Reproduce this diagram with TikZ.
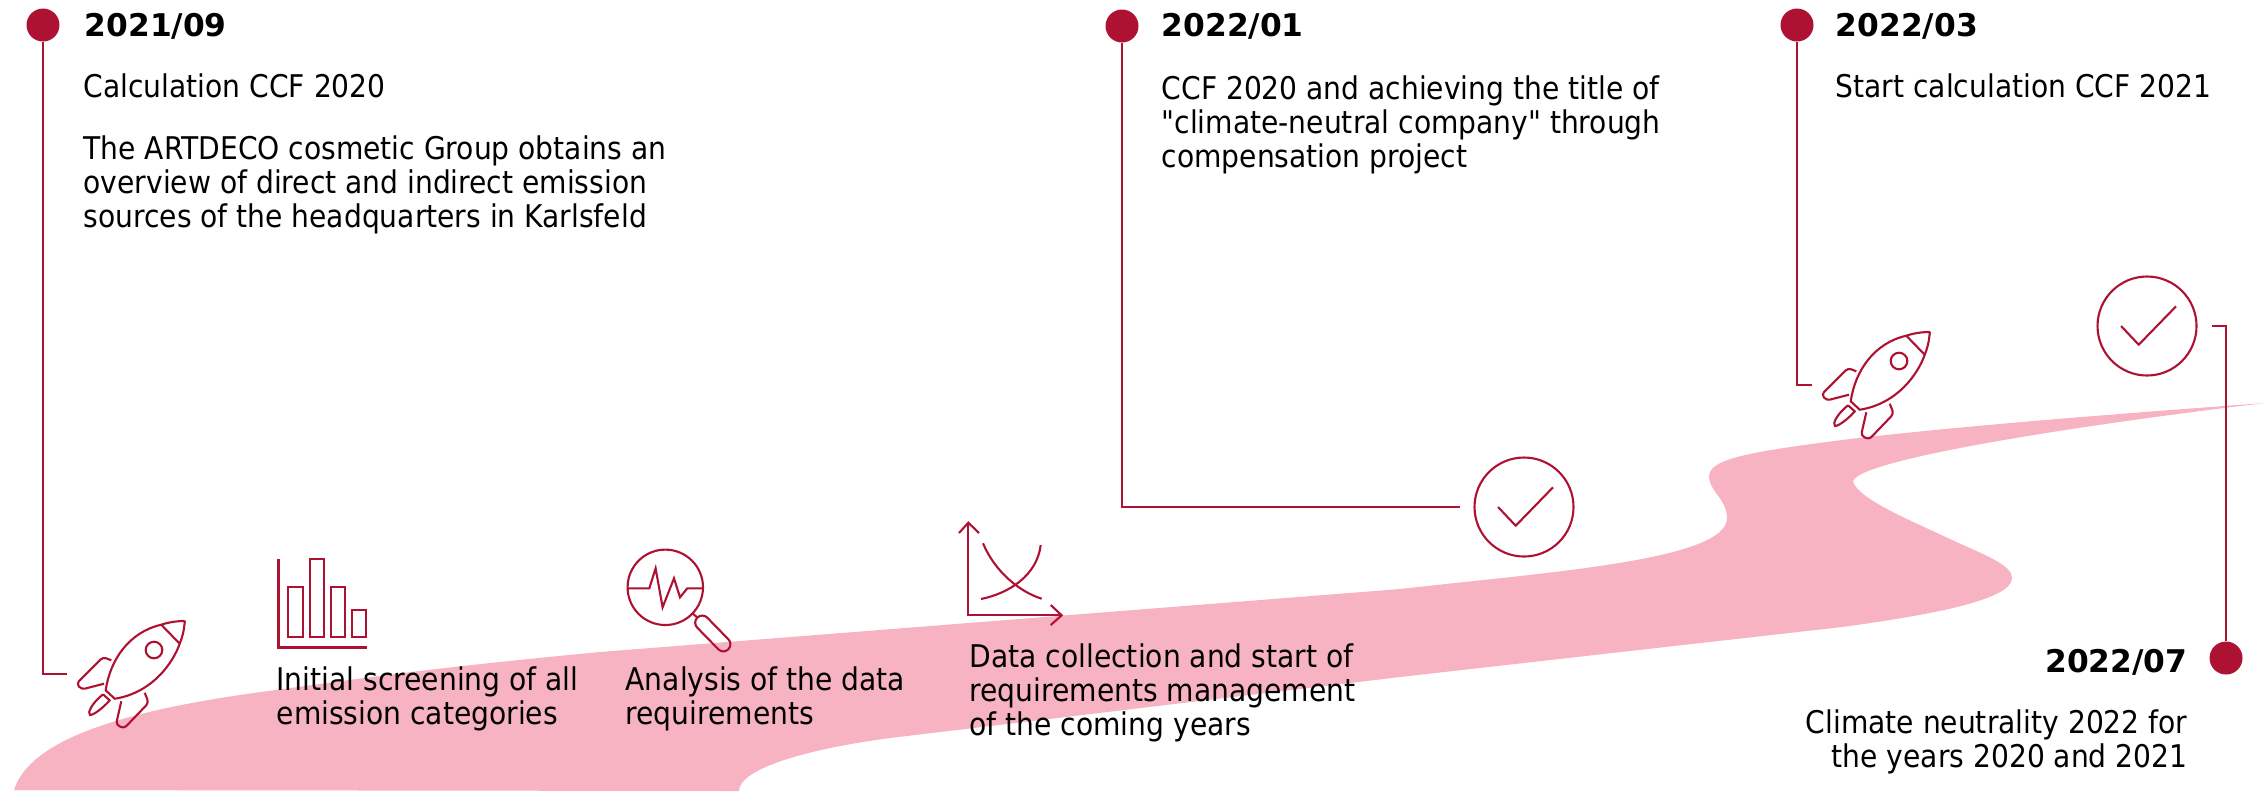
\documentclass[tikz,border=0pt]{standalone}
\usepackage{fontspec}
\newfontfamily\labelfont[BoldFont={DejaVu Sans Bold}]{DejaVu Sans Condensed}
\definecolor{darkred}{RGB}{174,18,50}
\definecolor{ribbonpink}{RGB}{247,179,193}
\tikzset{
  rocketicon/.pic={
    \draw (0,0) circle (0.083);
    \draw (-0.483,-0.403) .. controls (-0.44,-0.1) and (-0.25,0.18) .. (0.073,0.253)
      .. controls (0.15,0.28) and (0.24,0.29) .. (0.3,0.29)
      .. controls (0.31,0.29) and (0.31,0.28) .. (0.305,0.26)
      .. controls (0.3,0.19) and (0.28,0.12) .. (0.257,0.063)
      .. controls (0.19,-0.13) and (-0.02,-0.43) .. (-0.393,-0.487) -- cycle;
    \draw (0.073,0.253) -- (0.257,0.063);
    \draw[rounded corners=0.035cm] (-0.427,-0.103) -- (-0.51,-0.07) -- (-0.775,-0.335) -- (-0.725,-0.395) -- (-0.5,-0.337);
    \draw[rounded corners=0.035cm] (-0.093,-0.427) -- (-0.053,-0.527) -- (-0.3,-0.785) -- (-0.38,-0.745) -- (-0.327,-0.513);
    \draw (-0.51,-0.443) -- (-0.443,-0.503) .. controls (-0.5,-0.57) and (-0.6,-0.65) .. (-0.64,-0.65)
      .. controls (-0.67,-0.63) and (-0.62,-0.53) .. (-0.51,-0.443);
  },
  tickmark/.pic={
    \draw (-0.26,0) -- (-0.083,-0.187) -- (0.29,0.197);
  }
}
\begin{document}
\begin{tikzpicture}

\tikzstyle{dot} = [circle,fill=darkred,minimum size=0.33cm,inner sep=0];
\tikzstyle{leader} = [draw=darkred,line width=0.4pt];
\tikzstyle{icon} = [draw=darkred,line width=0.6pt];
\tikzstyle{checkcirc} = [circle,icon,minimum size=0.99cm,inner sep=0,outer sep=0.15cm];
\tikzstyle{datelabel} = [anchor=base west,inner sep=0,font=\labelfont\fontsize{8.9}{9.67}\selectfont\bfseries];
\tikzstyle{bodylabel} = [anchor=base west,inner sep=0,align=left,font=\labelfont\fontsize{8.9}{9.67}\selectfont];

\useasboundingbox (0,0) rectangle (22.67,-7.93);

% ribbon
\fill[ribbonpink] (0.14,-7.9) .. controls (0.3,-7.4) and (1.2,-7.1) .. (2.76,-6.9)
  .. controls (3.5,-6.8) and (4.2,-6.69) .. (6,-6.52) -- (14,-5.89)
  .. controls (15.5,-5.72) and (17.27,-5.6) .. (17.27,-5.18)
  .. controls (17.27,-5) and (17.09,-4.9) .. (17.09,-4.77)
  .. controls (17.09,-4.6) and (17.4,-4.53) .. (18.42,-4.4)
  .. controls (19.5,-4.27) and (21,-4.15) .. (22.65,-4.03)
  .. controls (20.8,-4.25) and (18.53,-4.6) .. (18.53,-4.82)
  .. controls (18.6,-5) and (19.1,-5.2) .. (19.52,-5.4)
  .. controls (19.85,-5.55) and (20.12,-5.65) .. (20.12,-5.78)
  .. controls (20.12,-6) and (19.3,-6.15) .. (18.42,-6.27)
  -- (14,-6.77) -- (8.9,-7.38)
  .. controls (8,-7.5) and (7.39,-7.7) .. (7.39,-7.91) -- cycle;

\node[dot] (dotA) at (0.43,-0.25) {};
\node[dot] (dotB) at (11.22,-0.26) {};
\node[dot] (dotC) at (17.97,-0.25) {};
\node[dot] (dotD) at (22.26,-6.58) {};

\node[datelabel] (dateA) at (0.84,-0.36) {2021/09};
\node[datelabel] (dateB) at (11.61,-0.36) {2022/01};
\node[datelabel] (dateC) at (18.35,-0.36) {2022/03};
\node[datelabel,anchor=base east] (dateD) at (21.88,-6.72) {2022/07};

\node[bodylabel] (titleA) at (0.83,-0.97) {Calculation CCF 2020};
\node[bodylabel] (textA) at (0.83,-2.27) {The ARTDECO cosmetic Group obtains an\\overview of direct and indirect emission\\sources of the headquarters in Karlsfeld};
\node[bodylabel] (textB) at (11.61,-1.67) {CCF 2020 and achieving the title of\\"climate-neutral company" through\\compensation project};
\node[bodylabel] (textC) at (18.35,-0.97) {Start calculation CCF 2021};
\node[bodylabel,anchor=base east,align=right] (textD) at (21.88,-7.67) {Climate neutrality 2022 for\\the years 2020 and 2021};
\node[bodylabel] (stepA) at (2.76,-7.24) {Initial screening of all\\emission categories};
\node[bodylabel] (stepB) at (6.25,-7.24) {Analysis of the data\\requirements};
\node[bodylabel] (stepC) at (9.69,-7.35) {Data collection and start of\\requirements management\\of the coming years};

\node[checkcirc] (checkA) at (15.24,-5.07) {};
\node[checkcirc] (checkB) at (21.47,-3.26) {};
\pic[icon] at (checkA) {tickmark};
\pic[icon] at (checkB) {tickmark};

\pic[icon] (rocketA) at (1.54,-6.5) {rocketicon};
\pic[icon] (rocketC) at (18.99,-3.61) {rocketicon};

\coordinate (endA) at (0.67,-6.74);
\coordinate (endC) at (18.12,-3.85);

\draw[leader] (dotA) |- (endA);
\draw[leader] (dotB) |- (checkA);
\draw[leader] (dotC) |- (endC);
\draw[leader] (checkB) -| (dotD);

% bar chart
\draw[icon,line width=0.8pt] (2.787,-5.59) |- (3.67,-6.477);
\draw[icon] (2.884,-5.87) rectangle (3.03,-6.37);
\draw[icon] (3.1,-5.59) rectangle (3.24,-6.37);
\draw[icon] (3.31,-5.87) rectangle (3.45,-6.37);
\draw[icon] (3.52,-6.1) rectangle (3.66,-6.37);

% magnifier
\begin{scope}[shift={(6.653,-5.873)}]
\draw[icon] (0,0) circle (0.377);
\draw[icon] (-0.377,-0.01) -- (-0.16,-0.01) -- (-0.097,0.19) -- (-0.027,-0.2) -- (0.087,0.09) -- (0.147,-0.1) -- (0.22,-0.01) -- (0.373,-0.01);
\draw[icon] (0.273,-0.26) -- (0.32,-0.303);
\draw[icon,rounded corners=0.07cm] (0.37,-0.253) -- (0.68,-0.57) -- (0.58,-0.67) -- (0.27,-0.353) -- cycle;
\end{scope}

% graph
\draw[icon] (9.683,-5.227) -- (9.683,-6.153) -- (10.617,-6.153);
\draw[icon] (9.59,-5.33) -- (9.683,-5.227) -- (9.79,-5.33);
\draw[icon] (10.507,-6.05) -- (10.617,-6.153) -- (10.507,-6.25);
\draw[icon] (9.83,-5.433) .. controls (9.95,-5.72) and (10.2,-5.92) .. (10.417,-5.987);
\draw[icon] (9.81,-5.99) .. controls (10.1,-5.93) and (10.37,-5.75) .. (10.407,-5.45);

\end{tikzpicture}
\end{document}
